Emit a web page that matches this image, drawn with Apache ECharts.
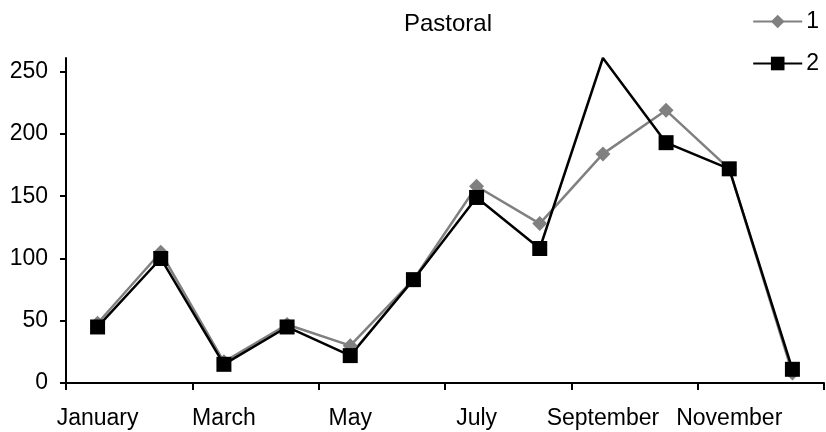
<!DOCTYPE html>
<html>
<head>
<meta charset="utf-8">
<script src="https://cdn.jsdelivr.net/npm/echarts@6/dist/echarts.min.js"></script>
<style>
  html, body { margin: 0; padding: 0; background: #fff; }
  #chart { width: 826px; height: 432px; }
</style>
</head>
<body>
<div id="chart"></div>
<script>
// Monthly values, one array per series
const months = ['January', 'February', 'March', 'April', 'May', 'June',
  'July', 'August', 'September', 'October', 'November', 'December'];
const series1 = [48, 105, 17, 47, 30, 83, 158, 128, 184, 219, 172, 8];
const series2 = [45, 100, 15, 45, 22, 83, 149, 108, 261, 193, 172, 11];
const yTicks = [0, 50, 100, 150, 200, 250];
const yMax = 261;

// September peak of series 2 is drawn without a marker
const series2Data = series2.map((v, i) => i === 8 ? { value: v, symbol: 'none' } : v);

const font = 'Liberation Sans, Arial, sans-serif';
const chart = echarts.init(document.getElementById('chart'), null, { renderer: 'canvas' });
chart.setOption({
  animation: false,
  backgroundColor: '#fff',
  textStyle: { fontFamily: font, color: '#000' },
  title: {
    text: 'Pastoral',
    left: 443,
    textAlign: 'center',
    top: 7,
    textStyle: { fontFamily: font, fontSize: 24, fontWeight: 'normal', color: '#000' }
  },
  legend: {
    orient: 'vertical',
    right: 2,
    top: 5,
    itemWidth: 49,
    itemHeight: 17,
    itemGap: 19,
    textStyle: { fontFamily: font, fontSize: 23, color: '#000', padding: [0, 0, 0, -1] },
    data: ['1', '2']
  },
  grid: { left: 66, right: 2, top: 58, bottom: 49, containLabel: false },
  xAxis: {
    type: 'category',
    data: months,
    boundaryGap: true,
    axisLine: { lineStyle: { color: '#000', width: 2 } },
    axisTick: { show: true, length: 7, lineStyle: { color: '#000', width: 2 } },
    axisLabel: { interval: 1, margin: 24, fontSize: 23, color: '#000', fontFamily: font },
    splitLine: { show: false }
  },
  yAxis: {
    type: 'value',
    min: 0,
    max: yMax,
    interval: 50,
    axisLine: { show: true, lineStyle: { color: '#000', width: 2 } },
    axisTick: { show: true, length: 6, customValues: yTicks, lineStyle: { color: '#000', width: 2 } },
    axisLabel: { customValues: yTicks, margin: 18, fontSize: 23, color: '#000', fontFamily: font },
    splitLine: { show: false }
  },
  series: [
    {
      name: '1',
      type: 'line',
      data: series1,
      symbol: 'diamond',
      symbolSize: 15,
      lineStyle: { color: '#808080', width: 2.5 },
      itemStyle: { color: '#808080' }
    },
    {
      name: '2',
      type: 'line',
      data: series2Data,
      symbol: 'rect',
      symbolSize: 15,
      lineStyle: { color: '#000', width: 2.5 },
      itemStyle: { color: '#000' }
    }
  ]
});
</script>
</body>
</html>
